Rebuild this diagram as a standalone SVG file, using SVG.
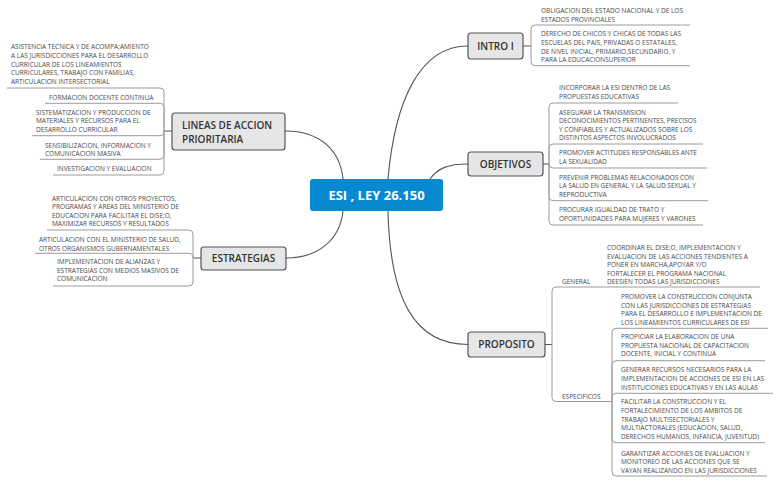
<svg xmlns="http://www.w3.org/2000/svg" width="778" height="482" viewBox="0 0 778 482">
<style>
.t{font-family:"Open Sans","Liberation Sans",sans-serif;font-size:6.5px;fill:#4a4a4a}
.n rect{fill:#e6e6e6;stroke:#555;stroke-width:1.2}
.nt{font-family:"Open Sans","Liberation Sans",sans-serif;font-size:10px;font-weight:600;fill:#333}
.ul{fill:none;stroke:#9c9c9c;stroke-width:1}
.c{fill:none;stroke:#555;stroke-width:1.1}
</style>
<rect width="778" height="482" fill="#ffffff"/>
<g id="connectors">
<path class="c" d="M343,179 C340,150 320,131 285,131"/>
<path class="c" d="M388,179 C395,100 420,46 468,46"/>
<path class="c" d="M430,179 C438,168 448,164 468,164"/>
<path class="c" d="M343,211 C340,240 318,258 286,258"/>
<path class="c" d="M388,211 C390,300 415,344.5 468,344.5"/>
<path class="c" d="M523,46 H531 M543,164 H549 M172,131 H164 M201,258 H193 M545,344.5 H552"/>
<path class="ul" d="M531,46 V29 Q531,25 535,25 H690"/>
<path class="ul" d="M531,46 V61.7 Q531,65.7 535,65.7 H690"/>
<path class="ul" d="M549,164 V107 Q549,103 553,103 H678"/>
<path class="ul" d="M549,164 V148 Q549,144 553,144 H703"/>
<path class="ul" d="M549,164 Q549,168 553,168 H707"/>
<path class="ul" d="M549,164 V196.7 Q549,200.7 553,200.7 H708"/>
<path class="ul" d="M549,164 V221 Q549,225 553,225 H703"/>
<path class="ul" d="M164,131 V92 Q164,88 160,88 H7"/>
<path class="ul" d="M164,131 V107.3 Q164,103.3 160,103.3 H45"/>
<path class="ul" d="M164,131 V131.7 Q164,135.7 160,135.7 H32"/>
<path class="ul" d="M164,131 V155.3 Q164,159.3 160,159.3 H40"/>
<path class="ul" d="M164,131 V171 Q164,175 160,175 H53"/>
<path class="ul" d="M193,258 V234 Q193,230 189,230 H47"/>
<path class="ul" d="M193,258 V257.3 Q193,253.3 189,253.3 H35"/>
<path class="ul" d="M193,258 V282 Q193,286 189,286 H53"/>
<path class="ul" d="M552,344.5 V291 Q552,287 556,287 H760"/>
<path class="ul" d="M552,344.5 V397.5 Q552,401.5 556,401.5 H612"/>
<path class="ul" d="M612,401.5 V332.3 Q612,328.3 616,328.3 H768"/>
<path class="ul" d="M612,401.5 V364.7 Q612,360.7 616,360.7 H765"/>
<path class="ul" d="M612,401.5 V397.3 Q612,393.3 616,393.3 H773"/>
<path class="ul" d="M612,401.5 V438.7 Q612,442.7 616,442.7 H765"/>
<path class="ul" d="M612,401.5 V472 Q612,476 616,476 H767"/>
</g>
<g id="central">
<rect x="310" y="179" width="133" height="32" rx="3" fill="#0789d2"/>
<text x="376.5" y="199.5" text-anchor="middle" font-family="'Open Sans','Liberation Sans',sans-serif" font-size="13" font-weight="700" fill="#ffffff">ESI , LEY 26.150</text>
</g>
<g id="intro" class="n">
<rect x="468" y="33" width="55" height="26" rx="3"/>
<text class="nt" x="495.5" y="49.5" text-anchor="middle">INTRO I</text>
</g>
<g id="objetivos" class="n">
<rect x="468" y="152" width="75" height="24" rx="3"/>
<text class="nt" x="505.5" y="167.5" text-anchor="middle">OBJETIVOS</text>
</g>
<g id="lineas" class="n">
<rect x="172" y="113" width="113" height="37" rx="3"/>
<text class="nt" x="182" y="129" font-size="9.8">LINEAS DE ACCION</text>
<text class="nt" x="182" y="142.5" font-size="9.8">PRIORITARIA</text>
</g>
<g id="estrategias" class="n">
<rect x="201" y="247" width="85" height="23" rx="3"/>
<text class="nt" x="243.5" y="262" text-anchor="middle">ESTRATEGIAS</text>
</g>
<g id="proposito" class="n">
<rect x="468" y="332" width="77" height="25" rx="3"/>
<text class="nt" x="506.5" y="348" text-anchor="middle">PROPOSITO</text>
</g>
<g id="intro-items">
<text class="t"><tspan x="541" y="13">OBLIGACION DEL ESTADO NACIONAL Y DE LOS</tspan><tspan x="541" y="21.6">ESTADOS PROVINCIALES</tspan></text>
<text class="t"><tspan x="541" y="36.3">DERECHO DE CHICOS Y CHICAS DE TODAS LAS</tspan><tspan x="541" y="44.9">ESCUELAS DEL PAIS, PRIVADAS O ESTATALES,</tspan><tspan x="541" y="53.5">DE NIVEL INICIAL, PRIMARIO,SECUNDARIO, Y</tspan><tspan x="541" y="62.1">PARA LA EDUCACIONSUPERIOR</tspan></text>
</g>
<g id="objetivos-items">
<text class="t"><tspan x="559" y="90.3">INCORPORAR LA ESI DENTRO DE LAS</tspan><tspan x="559" y="98.9">PROPUESTAS EDUCATIVAS</tspan></text>
<text class="t"><tspan x="559" y="114.6">ASEGURAR LA TRANSMISION</tspan><tspan x="559" y="123.2">DECONOCIMIENTOS PERTINENTES, PRECISOS</tspan><tspan x="559" y="131.8">Y CONFIABLES Y ACTUALIZADOS SOBRE LOS</tspan><tspan x="559" y="140.4">DISTINTOS ASPECTOS INVOLUCRADOS</tspan></text>
<text class="t"><tspan x="559" y="155.3">PROMOVER ACTITUDES RESPONSABLES ANTE</tspan><tspan x="559" y="163.9">LA SEXUALIDAD</tspan></text>
<text class="t"><tspan x="559" y="179.6">PREVENIR PROBLEMAS RELACIONADOS CON</tspan><tspan x="559" y="188.2">LA SALUD EN GENERAL Y LA SALUD SEXUAL Y</tspan><tspan x="559" y="196.8">REPRODUCTIVA</tspan></text>
<text class="t"><tspan x="559" y="212">PROCURAR IGUALDAD DE TRATO Y</tspan><tspan x="559" y="220.6">OPORTUNIDADES PARA MUJERES Y VARONES</tspan></text>
</g>
<g id="lineas-items">
<text class="t"><tspan x="11" y="49.3">ASISTENCIA TECNICA Y DE ACOMPA;AMIENTO</tspan><tspan x="11" y="57.9">A LAS JURISDICCIONES PARA EL DESARROLLO</tspan><tspan x="11" y="66.5">CURRICULAR DE LOS LINEAMIENTOS</tspan><tspan x="11" y="75.1">CURRICULARES, TRABAJO CON FAMILIAS,</tspan><tspan x="11" y="83.7">ARTICULACION INTERSECTORIAL</tspan></text>
<text class="t"><tspan x="49" y="99.6">FORMACION DOCENTE CONTINUA</tspan></text>
<text class="t"><tspan x="36" y="114.6">SISTEMATIZACION Y PRODUCCION DE</tspan><tspan x="36" y="123.2">MATERIALES Y RECURSOS PARA EL</tspan><tspan x="36" y="131.8">DESARROLLO CURRICULAR</tspan></text>
<text class="t"><tspan x="45" y="147.6">SENSIBILIZACION, INFORMACION Y</tspan><tspan x="45" y="156.2">COMUNICACION MASIVA</tspan></text>
<text class="t"><tspan x="57" y="171">INVESTIGACION Y EVALUACION</tspan></text>
</g>
<g id="estrategias-items">
<text class="t"><tspan x="52" y="200.6">ARTICULACION CON OTROS PROYECTOS,</tspan><tspan x="52" y="209.2">PROGRAMAS Y AREAS DEL MINISTERIO DE</tspan><tspan x="52" y="217.8">EDUCACION PARA FACILITAR EL DISE;O,</tspan><tspan x="52" y="226.4">MAXIMIZAR RECURSOS Y RESULTADOS</tspan></text>
<text class="t"><tspan x="39" y="242.3">ARTICULACION CON EL MINISTERIO DE SALUD,</tspan><tspan x="39" y="250.9">OTROS ORGANISMOS GUBERNAMENTALES</tspan></text>
<text class="t"><tspan x="57" y="264">IMPLEMENTACION DE ALIANZAS Y</tspan><tspan x="57" y="272.6">ESTRATEGIAS CON MEDIOS MASIVOS DE</tspan><tspan x="57" y="281.2">COMUNICACION</tspan></text>
</g>
<g id="proposito-items">
<text class="t" x="562" y="284">GENERAL</text>
<text class="t"><tspan x="607" y="250">COORDINAR EL DISE;O, IMPLEMENTACION Y</tspan><tspan x="607" y="258.6">EVALUACION DE LAS ACCIONES TENDIENTES A</tspan><tspan x="607" y="267.2">PONER EN MARCHA,APOYAR Y/O</tspan><tspan x="607" y="275.8">FORTALECER EL PROGRAMA NACIONAL</tspan><tspan x="607" y="284.4">DEESIEN TODAS LAS JURISDICCIONES</tspan></text>
<text class="t" x="562" y="398.5">ESPECIFICOS</text>
<text class="t"><tspan x="621" y="299">PROMOVER LA CONSTRUCCION CONJUNTA</tspan><tspan x="621" y="307.6">CON LAS JURISDICCIONES DE ESTRATEGIAS</tspan><tspan x="621" y="316.2">PARA EL DESARROLLO E IMPLEMENTACION DE</tspan><tspan x="621" y="324.8">LOS LINEAMIENTOS CURRICULARES DE ESI</tspan></text>
<text class="t"><tspan x="621" y="339">PROPICIAR LA ELABORACION DE UNA</tspan><tspan x="621" y="347.6">PROPUESTA NACIONAL DE CAPACITACION</tspan><tspan x="621" y="356.2">DOCENTE, INICIAL Y CONTINUA</tspan></text>
<text class="t"><tspan x="621" y="372.3">GENERAR RECURSOS NECESARIOS PARA LA</tspan><tspan x="621" y="380.9">IMPLEMENTACION DE ACCIONES DE ESI EN LAS</tspan><tspan x="621" y="389.5">INSTITUCIONES EDUCATIVAS Y EN LAS AULAS</tspan></text>
<text class="t"><tspan x="621" y="404">FACILITAR LA CONSTRUCCION Y EL</tspan><tspan x="621" y="412.8">FORTALECIMIENTO DE LOS AMBITOS DE</tspan><tspan x="621" y="421.6">TRABAJO MULTISECTORIALES Y</tspan><tspan x="621" y="430.4">MULTIACTORALES (EDUCACION, SALUD,</tspan><tspan x="621" y="439.2">DERECHOS HUMANOS, INFANCIA, JUVENTUD)</tspan></text>
<text class="t"><tspan x="621" y="455.6">GARANTIZAR ACCIONES DE EVALUACION Y</tspan><tspan x="621" y="464.4">MONITOREO DE LAS ACCIONES QUE SE</tspan><tspan x="621" y="473.2">VAYAN REALIZANDO EN LAS JURISDICCIONES</tspan></text>
</g>
</svg>
